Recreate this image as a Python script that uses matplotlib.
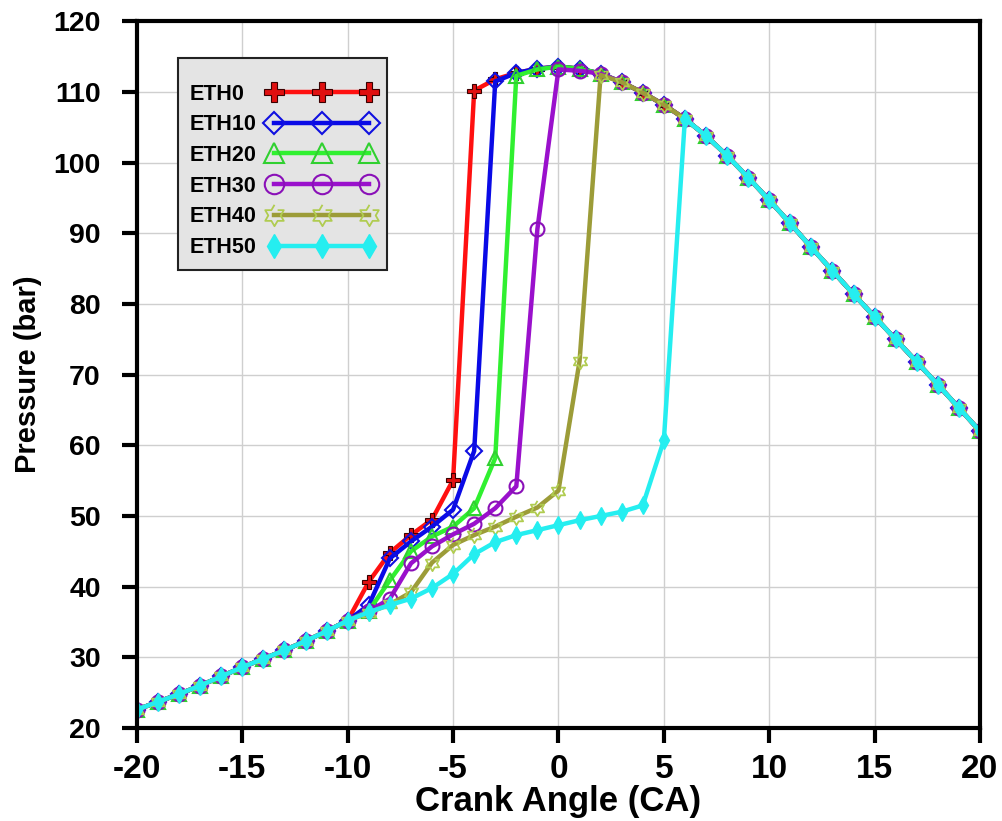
import matplotlib.pyplot as plt
from matplotlib.path import Path
from matplotlib.transforms import Bbox
import numpy as np

plt.rcParams['font.family'] = ['Liberation Sans', 'DejaVu Sans']
plt.rcParams['font.weight'] = 'bold'
plt.rcParams['axes.unicode_minus'] = False

# crank angle, one point per degree
crank_angle = list(range(-20, 21))

# pressure (bar), one value per crank angle
eth0 = [22.6, 23.7, 24.8, 26.0, 27.3, 28.6, 29.8, 31.0, 32.3, 33.7, 35.2,
        40.7, 44.8, 47.3, 49.5, 55.1, 110.2, 111.8, 112.7, 113.3,
        113.6, 113.3, 112.6, 111.4, 109.9, 108.2, 106.2, 103.8, 101.0, 97.9, 94.7,
        91.4, 88.0, 84.7, 81.4, 78.2, 75.0, 71.8, 68.6, 65.3, 62.0]
eth10 = [22.6, 23.7, 24.8, 26.0, 27.3, 28.6, 29.8, 31.0, 32.3, 33.7, 35.2,
         37.4, 44.0, 46.4, 48.5, 50.9, 59.2, 111.5, 112.7, 113.3,
         113.6, 113.3, 112.6, 111.4, 109.9, 108.2, 106.2, 103.8, 101.0, 97.9, 94.7,
         91.4, 88.0, 84.7, 81.4, 78.2, 75.0, 71.8, 68.6, 65.3, 62.0]
eth20 = [22.6, 23.7, 24.8, 26.0, 27.3, 28.6, 29.8, 31.0, 32.3, 33.7, 35.2,
         36.6, 40.9, 45.0, 47.1, 48.5, 51.1, 58.2, 112.3, 113.2,
         113.6, 113.3, 112.6, 111.4, 109.9, 108.2, 106.2, 103.8, 101.0, 97.9, 94.7,
         91.4, 88.0, 84.7, 81.4, 78.2, 75.0, 71.8, 68.6, 65.3, 62.0]
eth30 = [22.6, 23.7, 24.8, 26.0, 27.3, 28.6, 29.8, 31.0, 32.3, 33.7, 35.2,
         36.5, 38.3, 43.3, 45.7, 47.4, 48.9, 51.1, 54.2, 90.6,
         113.2, 113.0, 112.6, 111.4, 109.9, 108.2, 106.2, 103.8, 101.0, 97.9, 94.7,
         91.4, 88.0, 84.7, 81.4, 78.2, 75.0, 71.8, 68.6, 65.3, 62.0]
eth40 = [22.6, 23.7, 24.8, 26.0, 27.3, 28.6, 29.8, 31.0, 32.3, 33.7, 35.2,
         36.3, 37.5, 39.2, 43.4, 45.9, 47.3, 48.5, 49.9, 51.2,
         53.6, 71.9, 112.4, 111.4, 109.9, 108.2, 106.2, 103.8, 101.0, 97.9, 94.7,
         91.4, 88.0, 84.7, 81.4, 78.2, 75.0, 71.8, 68.6, 65.3, 62.0]
eth50 = [22.6, 23.7, 24.8, 26.0, 27.3, 28.6, 29.8, 31.0, 32.3, 33.7, 35.2,
         36.4, 37.4, 38.3, 39.8, 41.8, 44.6, 46.3, 47.3, 48.0,
         48.7, 49.4, 50.0, 50.6, 51.5, 60.7, 106.2, 103.8, 101.0, 97.9, 94.7,
         91.4, 88.0, 84.7, 81.4, 78.2, 75.0, 71.8, 68.6, 65.3, 62.0]

labels = ['ETH0', 'ETH10', 'ETH20', 'ETH30', 'ETH40', 'ETH50']
series = [eth0, eth10, eth20, eth30, eth40, eth50]

# six pointed star marker (two triangles)
ang = np.deg2rad(np.arange(0, 360, 30) + 90)
rad = np.where(np.arange(12) % 2 == 0, 1.0, 0.58)
star6 = Path(np.column_stack([rad * np.cos(ang), rad * np.sin(ang)]))

styles = [
    dict(color='#ff1010', marker='P', mfc='#e01010', mec='#3a0000', ms=10, mew=0.8),
    dict(color='#0a0ae6', marker='D', mfc='none', mec='#1010e0', ms=8, mew=1.5),
    dict(color='#30f030', marker='^', mfc='none', mec='#30d030', ms=10, mew=1.5),
    dict(color='#9a10cc', marker='o', mfc='none', mec='#8a10b8', ms=10, mew=1.5),
    dict(color='#9c9c38', marker=star6, mfc='none', mec='#b0cc50', ms=11, mew=1.3),
    dict(color='#25eef0', marker='d', mfc='#25eef0', mec='#25eef0', ms=9, mew=1),
]

fig = plt.figure(figsize=(10.02, 8.21), dpi=100)
ax = fig.add_axes([0.1367, 0.1133, 0.8413, 0.8607])

for lab, p, st in zip(labels, series, styles):
    ax.plot(crank_angle, p, lw=3.2, label=lab, **st)

ax.set_xlim(-20, 20)
ax.set_ylim(20, 120)
ax.set_xticks(np.arange(-20, 21, 5))
ax.set_yticks(np.arange(20, 121, 10))
ax.grid(True, color='#cfcfcf', lw=1)
ax.set_axisbelow(True)

for sp in ax.spines.values():
    sp.set_linewidth(3)
ax.tick_params(direction='out', length=11, width=3)
ax.tick_params(axis='x', pad=8)
ax.tick_params(axis='y', pad=15)
for t in ax.get_xticklabels():
    t.set_fontweight('bold')
    t.set_fontsize(24)
for t in ax.get_yticklabels():
    t.set_fontweight('bold')
    t.set_fontsize(20.5)

ax.set_xlabel('Crank Angle (CA)', fontsize=25, fontweight='bold', labelpad=0)
ax.set_ylabel('Pressure (bar)', fontsize=21, fontweight='bold', labelpad=8)

leg = ax.legend(loc='upper left', bbox_to_anchor=(0.049, 0.948), borderaxespad=0,
                markerfirst=False, numpoints=3, handlelength=5.0, markerscale=1.4,
                fancybox=False, framealpha=1, facecolor='#e4e4e4', edgecolor='#222222',
                prop={'size': 15.5, 'weight': 'bold'}, labelspacing=0.45,
                borderpad=0.55, handletextpad=0.5, title=' ', title_fontsize=2)
leg.get_frame().set_linewidth(1.5)

# keep the label text left aligned with handles in one column
text_areas = [item.get_children()[0]
              for col in leg._legend_handle_box.get_children()
              for item in col.get_children()]
orig_bbox = [ta.get_bbox for ta in text_areas]


def make_bbox(fn):
    def get_bbox(renderer):
        b = fn(renderer)
        w = max(f(renderer).width for f in orig_bbox)
        return Bbox.from_bounds(b.x0, b.y0, w, b.height)
    return get_bbox


for ta, fn in zip(text_areas, orig_bbox):
    ta.get_bbox = make_bbox(fn)

fig.savefig('out.png', dpi=100)
